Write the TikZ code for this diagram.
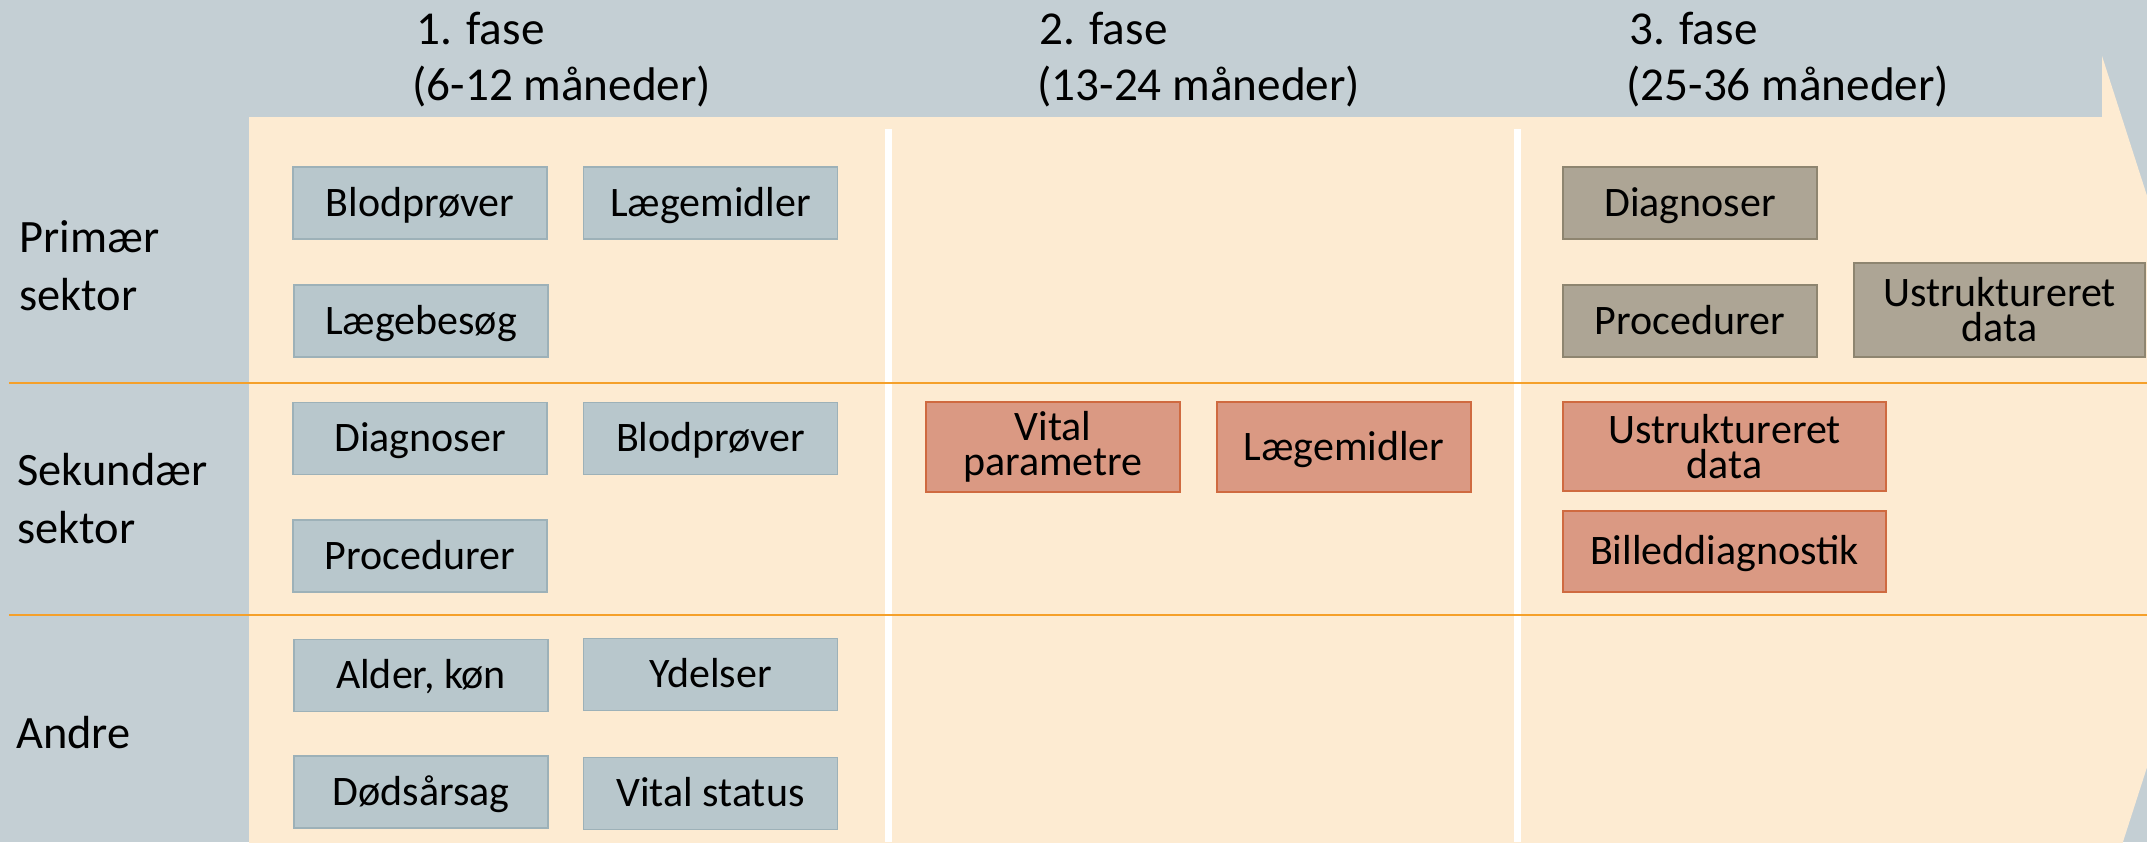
\documentclass[tikz,border=0pt]{standalone}
\usepackage{fontspec}
\setmainfont{Carlito}
\definecolor{bggrey}{HTML}{C4CFD4}
\definecolor{beige}{HTML}{FDEBD2}
\definecolor{orangeline}{HTML}{F5A02A}
\definecolor{boxblue}{HTML}{B8C7CC}
\definecolor{boxblueline}{HTML}{9DB1B8}
\definecolor{boxtaupe}{HTML}{ADA595}
\definecolor{boxtaupeline}{HTML}{8E8570}
\definecolor{boxsalmon}{HTML}{DA9983}
\definecolor{boxsalmonline}{HTML}{CF6A40}
\tikzset{
  headtext/.style={anchor=base west, inner sep=0pt, font=\fontsize{23.6}{28}\selectfont},
  rowtext/.style={anchor=base west, inner sep=0pt, font=\fontsize{23.2}{28}\selectfont},
  cell/.style={draw, line width=0.75pt, minimum width=127pt, minimum height=36pt,
    inner sep=0pt, align=center, font=\fontsize{21}{17.5}\selectfont},
  oneline/.style={text height=13.4pt, text depth=0pt},
  bluebox/.style={cell, oneline, fill=boxblue, draw=boxblueline},
  taupebox/.style={cell, fill=boxtaupe, draw=boxtaupeline},
  salmonbox/.style={cell, fill=boxsalmon, draw=boxsalmonline},
  sepline/.style={draw=orangeline, line width=0.9pt},
}
\begin{document}
\begin{tikzpicture}[x=0.5pt,y=-0.5pt]
\useasboundingbox (0,0) rectangle (2147,842);
\clip (0,0) rectangle (2147,842);
\fill[bggrey] (0,0) rectangle (2147,842);
% arrow body
\fill[beige] (249,117) -- (2102,117) -- (2102,56) -- (2239,481.5) -- (2102,907) -- (249,907) -- cycle;
% phase separators
\fill[white] (885,129) rectangle (892,842);
\fill[white] (1514,129) rectangle (1521,842);
% row separators
\coordinate (s1l) at (9,383);  \coordinate (s1r) at (2147,383);
\coordinate (s2l) at (9,615);  \coordinate (s2r) at (2147,615);
\draw[sepline] (s1l) -- (s1r);
\draw[sepline] (s2l) -- (s2r);
% headers
\node[headtext] (h1a) at (416,44) {1. fase};
\node[headtext] (h1b) at (412,100) {(6-12 måneder)};
\node[headtext] (h2a) at (1039,44) {2. fase};
\node[headtext] (h2b) at (1037,100) {(13-24 måneder)};
\node[headtext] (h3a) at (1629,44) {3. fase};
\node[headtext] (h3b) at (1626,100) {(25-36 måneder)};
% row labels
\node[rowtext] (r1a) at (19,252) {Primær};
\node[rowtext] (r1b) at (19,310) {sektor};
\node[rowtext] (r2a) at (17,485) {Sekundær};
\node[rowtext] (r2b) at (17,543) {sektor};
\node[rowtext] (r3) at (16,748) {Andre};
% phase 1
\node[bluebox] (p1a) at (420,203) {Blodprøver};
\node[bluebox] (p1b) at (710.5,203) {Lægemidler};
\node[bluebox] (p1c) at (421,321) {Lægebesøg};
\node[bluebox] (s1a) at (420,438.5) {Diagnoser};
\node[bluebox] (s1b) at (710.5,438.5) {Blodprøver};
\node[bluebox] (s1c) at (420,556) {Procedurer};
\node[bluebox] (a1a) at (421,675.5) {Alder, køn};
\node[bluebox] (a1b) at (710.5,674.5) {Ydelser};
\node[bluebox] (a1c) at (421,792) {Dødsårsag};
\node[bluebox] (a1d) at (710.5,793.5) {Vital status};
% phase 2
\node[salmonbox, minimum height=45pt] (s2a) at (1053,447) {Vital\\parametre};
\node[salmonbox, oneline, minimum height=45pt] (s2b) at (1344,447) {Lægemidler};
% phase 3
\node[taupebox, oneline] (p3a) at (1690,203) {Diagnoser};
\node[taupebox, oneline] (p3b) at (1690,321) {Procedurer};
\node[taupebox, minimum width=145.5pt, minimum height=47pt] (p3c) at (1999.5,310) {Ustruktureret\\data};
\node[salmonbox, minimum width=161.5pt, minimum height=44.5pt] (s3a) at (1724.5,446.5) {Ustruktureret\\data};
\node[salmonbox, oneline, minimum width=161.5pt, minimum height=40.5pt] (s3b) at (1724.5,551.5) {Billeddiagnostik};
\end{tikzpicture}
\end{document}
